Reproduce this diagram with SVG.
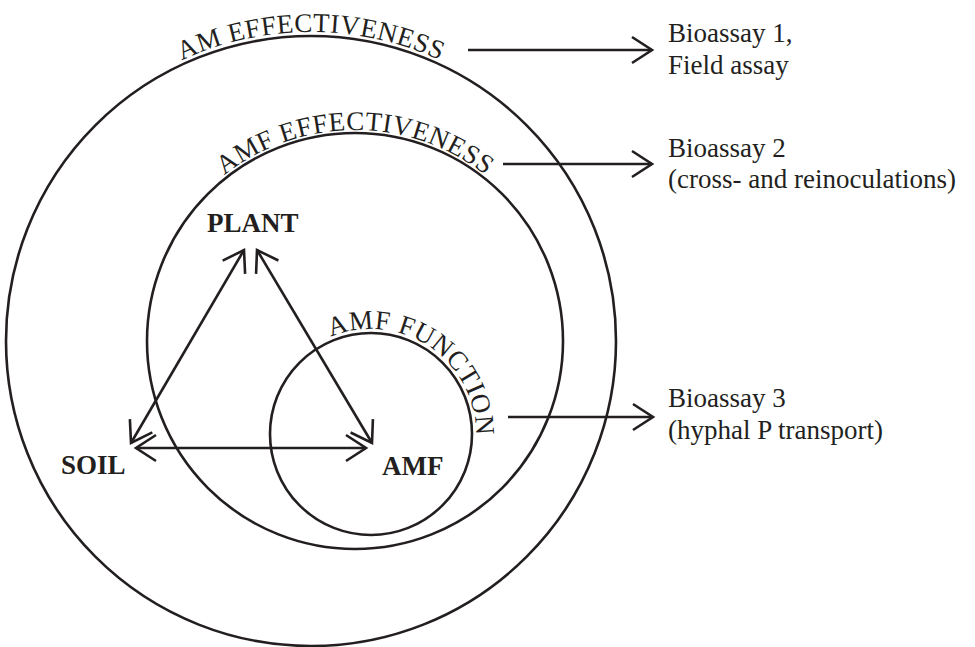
<svg xmlns="http://www.w3.org/2000/svg" width="975" height="647" viewBox="0 0 975 647">
<style>
.ring{fill:none;stroke:#231f20;stroke-width:2.6}
.conn{fill:none;stroke:#231f20;stroke-width:2.6}
.lbl{font-family:"Liberation Serif","Times New Roman",serif;font-size:27px;fill:#231f20}
.bold{font-weight:bold}
.arc{font-family:"Liberation Serif","Times New Roman",serif;font-size:27px;fill:#231f20;letter-spacing:0.5px}
</style>
<defs>
<marker id="chev" markerUnits="userSpaceOnUse" viewBox="-24 -16 27 32" refX="0" refY="0" markerWidth="27" markerHeight="32" orient="auto-start-reverse">
<path d="M -20 -13 L 0 0 L -20 13" fill="none" stroke="#231f20" stroke-width="2.6" stroke-linejoin="miter"/>
</marker>
<path id="pOuter" d="M 2 341 A 309 309 0 0 1 620 341"/>
<path id="pMid" d="M 144 341 A 211 211 0 0 1 566 341"/>
<path id="pInner" d="M 330.8 337 A 105 105 0 0 1 461.9 486.5"/>
</defs>
<g id="am-effectiveness">
<circle class="ring" cx="311" cy="341" r="305"/>
<text class="arc" text-anchor="middle"><textPath href="#pOuter" startOffset="50%">AM EFFECTIVENESS</textPath></text>
</g>
<g id="amf-effectiveness">
<circle class="ring" cx="355" cy="341" r="208"/>
<text class="arc" text-anchor="middle"><textPath href="#pMid" startOffset="50%">AMF EFFECTIVENESS</textPath></text>
</g>
<g id="amf-function">
<circle class="ring" cx="371" cy="434" r="101"/>
<text class="arc"><textPath href="#pInner" startOffset="0">AMF FUNCTION</textPath></text>
</g>
<g id="plant"><text class="lbl bold" x="207" y="232">PLANT</text></g>
<g id="soil"><text class="lbl bold" x="61" y="474">SOIL</text></g>
<g id="amf"><text class="lbl bold" x="382" y="475">AMF</text></g>
<g id="bioassay1"><text class="lbl" x="668" y="42">Bioassay 1,</text><text class="lbl" x="668" y="74">Field assay</text></g>
<g id="bioassay2"><text class="lbl" x="668" y="157">Bioassay 2</text><text class="lbl" x="668" y="188">(cross- and reinoculations)</text></g>
<g id="bioassay3"><text class="lbl" x="668" y="407">Bioassay 3</text><text class="lbl" x="668" y="439">(hyphal P transport)</text></g>
<g id="connectors">
<line class="conn" x1="131" y1="443" x2="244" y2="250" marker-start="url(#chev)" marker-end="url(#chev)"/>
<line class="conn" x1="257" y1="250" x2="372" y2="443" marker-start="url(#chev)" marker-end="url(#chev)"/>
<line class="conn" x1="136" y1="448" x2="366" y2="448" marker-start="url(#chev)" marker-end="url(#chev)"/>
<line class="conn" x1="468" y1="50" x2="652" y2="50" marker-end="url(#chev)"/>
<line class="conn" x1="503" y1="164" x2="652" y2="164" marker-end="url(#chev)"/>
<line class="conn" x1="508" y1="417" x2="653" y2="417" marker-end="url(#chev)"/>
</g>
</svg>
